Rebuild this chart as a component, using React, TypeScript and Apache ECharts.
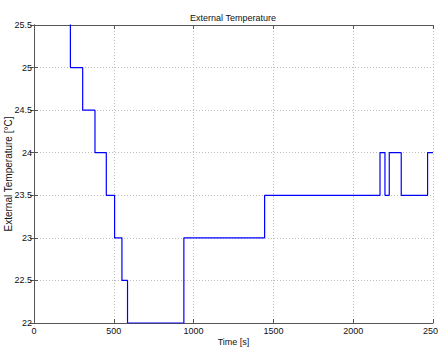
import React, { useEffect, useRef } from "react";
import * as echarts from "echarts";

// Step samples: each temperature holds from its time until the next time.
const times = [0, 228, 305, 382, 453, 505, 551, 586, 939, 1445, 2168, 2199, 2226, 2301, 2466, 2500];
const temps = [26, 25, 24.5, 24, 23.5, 23, 22.5, 22, 23, 23.5, 24, 23.5, 24, 23.5, 24, 24];

const xTicks = { min: 0, max: 2500, interval: 500 };
const yTicks = { min: 22, max: 25.5, interval: 0.5 };

const FONT = "'Liberation Sans Narrow', 'Liberation Sans', Arial, sans-serif";

export default function App() {
  const ref = useRef<HTMLDivElement>(null);

  useEffect(() => {
    if (!ref.current) return;
    const chart = echarts.init(ref.current, undefined, { renderer: "svg" });
    const axisLine = { show: true, lineStyle: { color: "#555", width: 1 } };
    const axisTick = { show: true, inside: true, length: 4, lineStyle: { color: "#555" } };
    const grid = { show: true, lineStyle: { color: "#bdbdbd", type: [1, 2] as any, width: 1 } };
    const label = { color: "#111", fontSize: 9, fontFamily: FONT };

    chart.setOption({
      animation: false,
      backgroundColor: "#fff",
      title: {
        text: "External Temperature",
        left: 233,
        top: 13,
        padding: 0,
        textAlign: "center",
        textStyle: { fontSize: 9, fontWeight: "normal", color: "#111", fontFamily: FONT },
      },
      grid: { left: 34, right: 5, top: 25, bottom: 24, containLabel: false, outerBoundsMode: "none" },
      xAxis: [
        {
          type: "value",
          ...xTicks,
          name: "Time [s]",
          nameLocation: "middle",
          nameGap: 14,
          nameMoveOverlap: false,
          nameTextStyle: { ...label },
          axisLine,
          axisTick,
          splitLine: grid,
          axisLabel: { ...label, margin: 3, formatter: (v: number) => String(v) },
        },
        {
          type: "value",
          ...xTicks,
          position: "top",
          axisLine,
          axisTick,
          splitLine: { show: false },
          axisLabel: { show: false },
        },
      ],
      yAxis: [
        {
          type: "value",
          ...yTicks,
          name: "External Temperature [\u00B0C]",
          nameLocation: "middle",
          nameGap: 21,
          nameMoveOverlap: false,
          nameTextStyle: { ...label, fontSize: 10 },
          axisLine,
          axisTick,
          splitLine: grid,
          axisLabel: { ...label, margin: 2, formatter: (v: number) => String(v) },
        },
        {
          type: "value",
          ...yTicks,
          position: "right",
          axisLine,
          axisTick,
          splitLine: { show: false },
          axisLabel: { show: false },
        },
      ],
      series: [
        {
          type: "line",
          step: "end",
          data: times.map((t, i) => [t, temps[i]]),
          showSymbol: false,
          clip: true,
          lineStyle: { color: "#0000ff", width: 1.2 },
          itemStyle: { color: "#0000ff" },
        },
      ],
    });
    return () => chart.dispose();
  }, []);

  return (
    <div
      ref={ref}
      style={{ position: "fixed", left: 0, top: 0, width: 438, height: 347 }}
    />
  );
}
